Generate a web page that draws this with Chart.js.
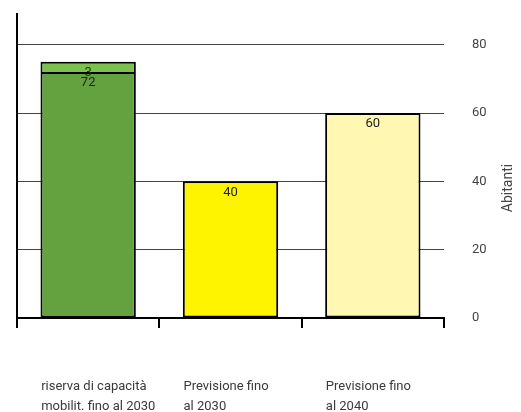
<!DOCTYPE HTML>
<html>
<head>
  <meta charset='utf-8'>
  <meta name='viewport' content='width=device-width, initial-scale=1'>
  <title>Abitanti</title>
  <script src='https://cdn.jsdelivr.net/npm/chart.js'></script>
  <style>
    body {
      margin: 0;
      padding: 0;
      background-color: #fff;
    }
    .box {
      width: 521px;
      height: 412px;
    }
  </style>
</head>
<body>
  <div class='box'>
    <canvas id='chart' width='521' height='412'></canvas>
  </div>
  <script>
    // dati
    var categorie = [
      ['riserva di capacità', 'mobilit. fino al 2030'],
      ['Previsione fino', 'al 2030'],
      ['Previsione fino', 'al 2040']
    ];
    var abitanti = [72, 40, 60];
    var riserva = [3, null, null];
    var tickY = [0, 20, 40, 60, 80];
    var titoloY = 'Abitanti';

    var coloriBase = ['#63a23e', '#fff400', '#fff7b2'];

    // etichette dentro le barre + titolo asse (ruotato dal basso in alto)
    var extraText = {
      id: 'extraText',
      afterDatasetsDraw: function(chart) {
        var ctx = chart.ctx;
        ctx.save();
        ctx.font = '13px Roboto';
        ctx.textAlign = 'center';
        ctx.textBaseline = 'middle';
        chart.data.datasets.forEach(function(ds, di) {
          ctx.fillStyle = di === 0 ? '#222' : '#1c3a12';
          chart.getDatasetMeta(di).data.forEach(function(bar, i) {
            if (ds.data[i] == null) return;
            ctx.fillText(ds.data[i], bar.x, bar.y + 11);
          });
        });
        var y = chart.scales.y;
        ctx.translate(y.right - 13, (chart.chartArea.top + chart.chartArea.bottom) / 2 + 22);
        ctx.rotate(-Math.PI / 2);
        ctx.font = '14px Roboto';
        ctx.fillStyle = '#444';
        ctx.fillText(titoloY, 0, 0);
        ctx.restore();
      }
    };

    var ctx = document.getElementById('chart').getContext('2d');
    var chart = new Chart(ctx, {
      type: 'bar',
      data: {
        labels: categorie,
        datasets: [{
          data: abitanti,
          backgroundColor: coloriBase,
          borderColor: '#000',
          borderWidth: 2,
          borderSkipped: false
        }, {
          data: riserva,
          backgroundColor: '#7cc14e',
          borderColor: '#000',
          borderWidth: 2,
          borderSkipped: 'bottom' // la linea di separazione è già il bordo della barra sotto
        }]
      },
      options: {
        responsive: false,
        animation: false,
        categoryPercentage: 1,
        barPercentage: 0.67,
        layout: { padding: { left: 16, right: 0, top: 14, bottom: 0 } },
        plugins: {
          legend: { display: false },
          tooltip: { enabled: false }
        },
        scales: {
          x: {
            stacked: true,
            afterFit: function(axis) { axis.height = 94; },
            grid: {
              offset: true,
              drawOnChartArea: false,
              drawTicks: true,
              tickLength: 10,
              color: '#000',
              lineWidth: 2
            },
            border: { color: '#000', width: 2 },
            ticks: {
              align: 'start',
              labelOffset: -47,
              padding: 49,
              maxRotation: 0,
              minRotation: 0,
              autoSkip: false,
              color: '#3a3a3a',
              font: { family: 'Roboto', size: 13, lineHeight: 1.5 }
            }
          },
          y: {
            stacked: true,
            position: 'right',
            min: 0,
            max: 89,
            afterBuildTicks: function(axis) {
              axis.ticks = tickY.map(function(v) { return { value: v }; });
            },
            afterFit: function(axis) { axis.width = 77; },
            grid: {
              color: function(c) { return c.tick && c.tick.value === 0 ? 'rgba(0,0,0,0)' : '#444'; },
              tickColor: 'rgba(0,0,0,0)',
              lineWidth: 1,
              drawTicks: true,
              tickLength: 28
            },
            border: { display: false },
            ticks: {
              padding: 0,
              color: '#444',
              font: { family: 'Roboto', size: 13 }
            }
          },
          yl: {
            position: 'left',
            min: 0,
            max: 89,
            afterFit: function(axis) { axis.width = 1; },
            grid: { display: false, drawTicks: false },
            border: { color: '#000', width: 2 },
            ticks: { display: false }
          }
        }
      },
      plugins: [extraText]
    });
  </script>
</body>
</html>
